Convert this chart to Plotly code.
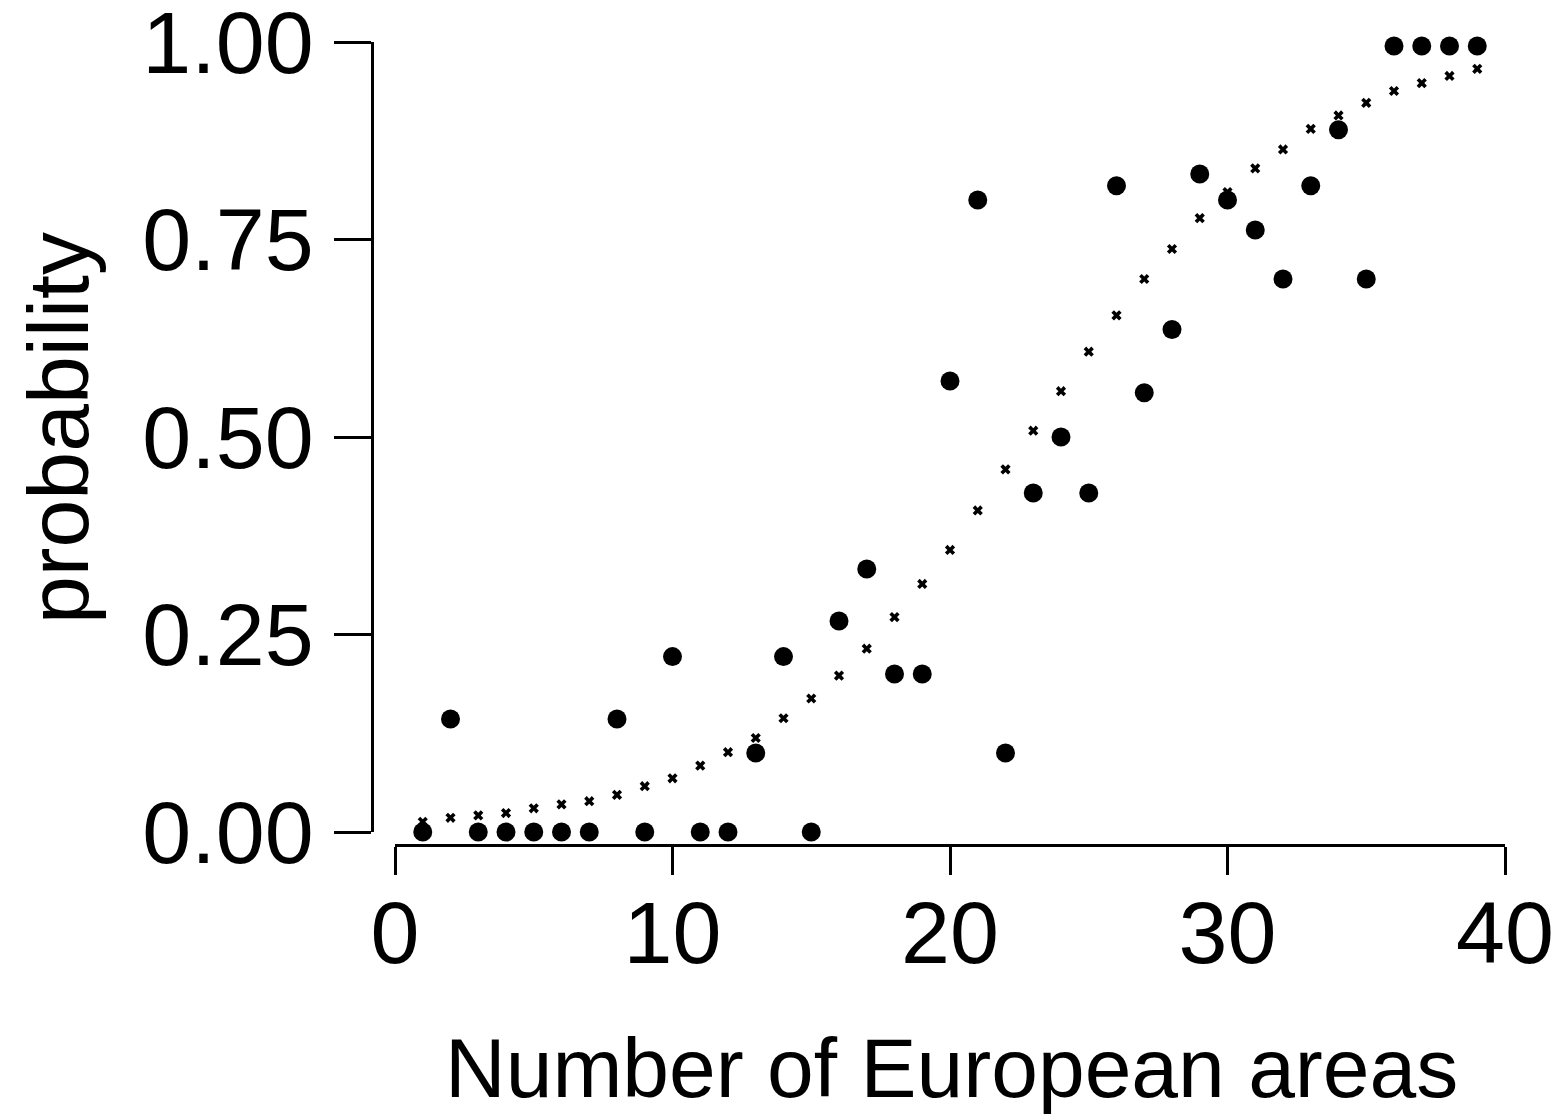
import plotly.graph_objects as go

areas = list(range(1, 40))
observed = [0, 0.143, 0, 0, 0, 0, 0, 0.143, 0, 0.222,
            0, 0, 0.1, 0.222, 0, 0.267, 0.333, 0.2, 0.2, 0.571,
            0.8, 0.1, 0.429, 0.5, 0.429, 0.818, 0.556, 0.636, 0.833, 0.8,
            0.762, 0.7, 0.818, 0.889, 0.7, 0.995, 0.995, 0.995, 0.995]
fitted = [0.013, 0.018, 0.021, 0.024, 0.030, 0.035, 0.039, 0.047, 0.058, 0.068,
          0.084, 0.101, 0.119, 0.144, 0.169, 0.198, 0.232, 0.272, 0.314, 0.357,
          0.407, 0.459, 0.508, 0.558, 0.608, 0.654, 0.700, 0.738, 0.777, 0.810,
          0.840, 0.864, 0.890, 0.907, 0.923, 0.938, 0.948, 0.957, 0.966]
x_ticks = [0, 10, 20, 30, 40]
y_ticks = [0, 0.25, 0.5, 0.75, 1.0]
y_tick_text = ["0.00", "0.25", "0.50", "0.75", "1.00"]

W, H = 1562, 1118
FONT = "Liberation Sans, Arial, sans-serif"

fig = go.Figure()
fig.add_trace(go.Scatter(x=areas, y=fitted, mode="markers", cliponaxis=False,
                         marker=dict(symbol="x", size=9, color="black",
                                     line=dict(width=0))))
fig.add_trace(go.Scatter(x=areas, y=observed, mode="markers", cliponaxis=False,
                         marker=dict(symbol="circle", size=19, color="black",
                                     line=dict(width=0))))

fig.update_layout(
    width=W, height=H,
    margin=dict(l=0, r=0, t=0, b=0),
    paper_bgcolor="white", plot_bgcolor="white",
    showlegend=False,
    font=dict(family=FONT, size=88, color="black"),
    xaxis=dict(domain=[395 / W, 1505 / W], range=[0, 40], anchor="free",
               position=(H - 845) / H, showline=True, linecolor="black",
               linewidth=2.5, ticks="outside", ticklen=28, tickwidth=2.5,
               tickcolor="black", tickvals=x_ticks, showgrid=False,
               zeroline=False, automargin=False, ticklabelstandoff=-17,
               ticklabeloverflow="allow"),
    yaxis=dict(domain=[(H - 832) / H, (H - 42) / H], range=[0, 1], anchor="free",
               position=372 / W, showline=True, linecolor="black",
               linewidth=2.5, ticks="outside", ticklen=37, tickwidth=2.5,
               tickcolor="black", tickvals=y_ticks, ticktext=y_tick_text,
               showgrid=False, zeroline=False, automargin=False,
               ticklabelstandoff=3, ticklabeloverflow="allow"),
    annotations=[
        dict(text="Number of European areas", x=951 / W, y=(H - 1068) / H,
             xref="paper", yref="paper", xanchor="center", yanchor="middle",
             showarrow=False, font=dict(family=FONT, size=84)),
        dict(text="probability", x=58 / W, y=(H - 428) / H, textangle=-90,
             xref="paper", yref="paper", xanchor="center", yanchor="middle",
             showarrow=False, font=dict(family=FONT, size=86)),
    ],
)

fig.write_html("out.html")
